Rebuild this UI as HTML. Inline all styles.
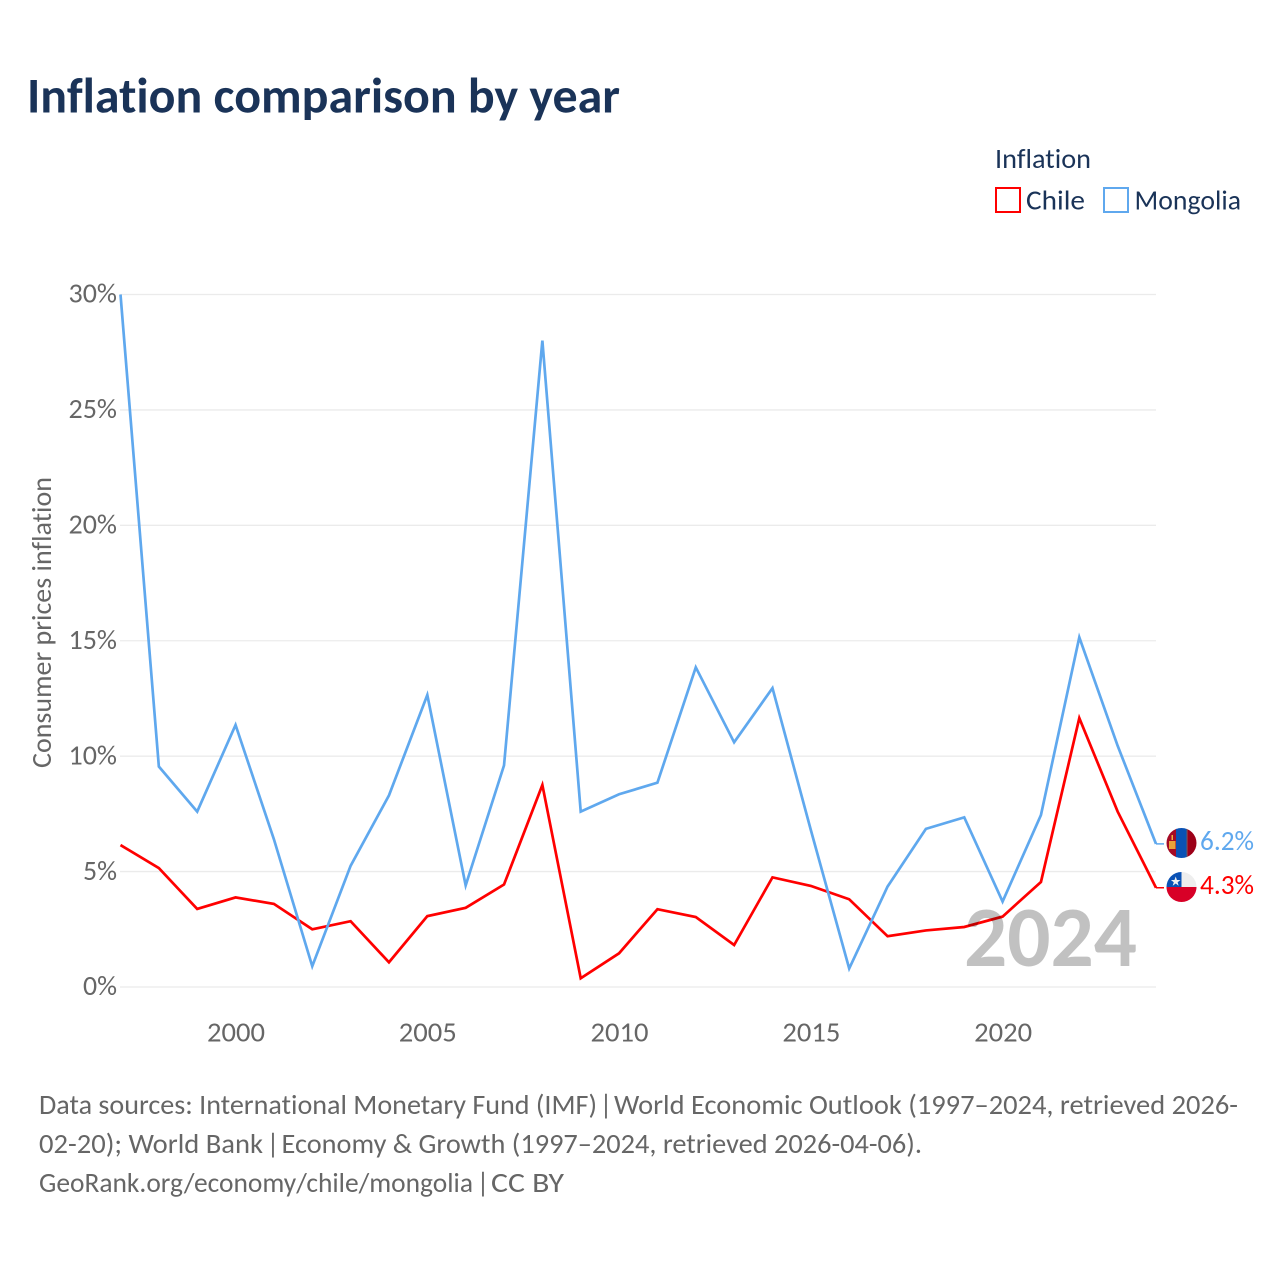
<!DOCTYPE html>
<html lang="en">
<head>
<meta charset="utf-8">
<title>Inflation comparison by year</title>
<style>
  html, body { margin: 0; padding: 0; background: #fff; }
  svg { display: block; font-family: "Carlito", "Lato", "Liberation Sans", sans-serif; font-variant-ligatures: none; }
</style>
</head>
<body>
<svg id="chart" xmlns="http://www.w3.org/2000/svg" width="1280" height="1280" viewBox="0 0 1280 1280">
  <defs>
    <clipPath id="flag-clip-mn"><circle cx="1181.5" cy="843" r="15"/></clipPath>
    <clipPath id="flag-clip-cl"><circle cx="1181.5" cy="887" r="15"/></clipPath>
  </defs>
  <rect x="0" y="0" width="1280" height="1280" fill="#fff"/>
  <text x="27" y="112.500" font-size="50" font-weight="700" fill="#1a3358" textLength="593" lengthAdjust="spacingAndGlyphs">Inflation comparison by year</text>

  <g>
    <text x="995" y="168" font-size="28" fill="#1a3358" textLength="96" lengthAdjust="spacingAndGlyphs">Inflation</text>
    <g>
      <rect x="996" y="188" width="24" height="24" fill="#fff" stroke="#ff0000" stroke-width="2"/>
      <text x="1026" y="209.500" font-size="28" fill="#1a3358" textLength="59" lengthAdjust="spacingAndGlyphs">Chile</text>
    </g>
    <g>
      <rect x="1104" y="188" width="24" height="24" fill="#fff" stroke="#5fa8ee" stroke-width="2"/>
      <text x="1134.500" y="209.500" font-size="28" fill="#1a3358" textLength="106.500" lengthAdjust="spacingAndGlyphs">Mongolia</text>
    </g>
  </g>

  <g id="grid"></g>
  <g id="y-ticks"></g>
  <g id="x-ticks"></g>
  <text transform="translate(51,768) rotate(-90)" x="0" y="0" font-size="27.500" fill="#666" textLength="291" lengthAdjust="spacingAndGlyphs">Consumer prices inflation</text>

  <g id="series"></g>

  <text x="964" y="966" font-size="86" font-weight="700" fill="#000" fill-opacity="0.245" textLength="173" lengthAdjust="spacingAndGlyphs">2024</text>

  <g clip-path="url(#flag-clip-mn)">
    <rect x="1166" y="828" width="11" height="30" fill="#a50a25"/>
    <rect x="1176" y="828" width="11" height="30" fill="#0a52b5"/>
    <rect x="1186.400" y="828" width="1" height="30" fill="#5a5a6a"/>
    <rect x="1187.400" y="828" width="11" height="30" fill="#9d0018"/>
    <rect x="1171.500" y="835" width="1.500" height="5" fill="#f0b040"/>
    <rect x="1169" y="841" width="6.500" height="8" fill="#e8a33a"/>
  </g>
  <g clip-path="url(#flag-clip-cl)">
    <rect x="1166" y="872" width="32" height="15" fill="#eeeeee"/>
    <rect x="1166" y="872" width="15.500" height="15" fill="#0a52b5"/>
    <rect x="1166" y="887" width="32" height="15" fill="#d80027"/>
    <polygon points="1175.700,876.500 1176.900,880 1180.500,880 1177.600,882.200 1178.700,885.700 1175.700,883.500 1172.700,885.700 1173.800,882.200 1170.900,880 1174.500,880" fill="#f0f0f0"/>
  </g>

  <text id="end-label-mongolia" x="1200" y="850" font-size="27.500" fill="#5fa8ee" textLength="54" lengthAdjust="spacingAndGlyphs">6.2%</text>
  <text id="end-label-chile" x="1200" y="894" font-size="27.500" fill="#ff0000" textLength="54" lengthAdjust="spacingAndGlyphs">4.3%</text>

  <g font-size="27.500" fill="#666">
    <text x="39" y="1114" textLength="558" lengthAdjust="spacingAndGlyphs">Data sources: International Monetary Fund (IMF)</text>
    <text x="606" y="1114" text-anchor="middle">|</text>
    <text x="614" y="1114" textLength="624" lengthAdjust="spacingAndGlyphs">World Economic Outlook (1997–2024, retrieved 2026-</text>
    <text x="39" y="1153" textLength="224" lengthAdjust="spacingAndGlyphs">02-20); World Bank</text>
    <text x="273" y="1153" text-anchor="middle">|</text>
    <text x="281.500" y="1153" textLength="640.500" lengthAdjust="spacingAndGlyphs">Economy &amp; Growth (1997–2024, retrieved 2026-04-06).</text>
    <text x="39" y="1192" textLength="434" lengthAdjust="spacingAndGlyphs">GeoRank.org/economy/chile/mongolia</text>
    <text x="483" y="1192" text-anchor="middle">|</text>
    <text x="491" y="1192" textLength="73" lengthAdjust="spacingAndGlyphs">CC BY</text>
  </g>
</svg>
<script>
const years = [1997,1998,1999,2000,2001,2002,2003,2004,2005,2006,2007,2008,2009,2010,2011,2012,2013,2014,2015,2016,2017,2018,2019,2020,2021,2022,2023,2024];
const chileValues = [6.15,5.15,3.38,3.88,3.6,2.5,2.85,1.07,3.07,3.43,4.44,8.75,0.38,1.46,3.37,3.03,1.82,4.75,4.38,3.8,2.2,2.45,2.6,3.05,4.55,11.65,7.6,4.3];
const mongoliaValues = [30,9.55,7.6,11.35,6.4,0.9,5.25,8.3,12.65,4.4,9.6,28,7.6,8.35,8.85,13.85,10.6,12.95,6.8,0.8,4.35,6.85,7.35,3.7,7.45,15.15,10.45,6.2];
const yTickValues = [0,5,10,15,20,25,30];
const xTickValues = [2000,2005,2010,2015,2020];

const NS = 'http://www.w3.org/2000/svg';
function xScale(year) { return 120.5 + (year - 1997) * (1156 - 120.5) / 27; }
function yScale(value) { return 987 - value * (987 - 294.5) / 30; }

const gridGroup = document.getElementById('grid');
const yTickGroup = document.getElementById('y-ticks');
const xTickGroup = document.getElementById('x-ticks');
const seriesGroup = document.getElementById('series');

yTickValues.forEach(function (v) {
  const line = document.createElementNS(NS, 'line');
  
  
  line.setAttribute('x1', 120);
  line.setAttribute('x2', 1156);
  line.setAttribute('y1', yScale(v));
  line.setAttribute('y2', yScale(v));
  line.setAttribute('stroke', '#ebebeb');
  line.setAttribute('stroke-width', '1.3');
  gridGroup.appendChild(line);

  const label = v + '%';
  const t = document.createElementNS(NS, 'text');
  
  
  const w = v === 0 ? 34 : (v === 5 ? 34 : 48.5);
  t.setAttribute('x', 117 - w);
  t.setAttribute('y', yScale(v) + 8.2);
  t.setAttribute('font-size', '27.500');
  t.setAttribute('fill', '#666');
  t.setAttribute('textLength', w);
  t.setAttribute('lengthAdjust', 'spacingAndGlyphs');
  t.textContent = label;
  yTickGroup.appendChild(t);
});

xTickValues.forEach(function (yr) {
  const t = document.createElementNS(NS, 'text');
  
  
  t.setAttribute('x', xScale(yr) - 28.5);
  t.setAttribute('y', 1041.5);
  t.setAttribute('font-size', '27.500');
  t.setAttribute('fill', '#666');
  t.setAttribute('textLength', 58);
  t.setAttribute('lengthAdjust', 'spacingAndGlyphs');
  t.textContent = yr;
  xTickGroup.appendChild(t);
});

function seriesPoints(values) {
  return values.map(function (v, i) {
    return xScale(years[i]).toFixed(2) + ',' + yScale(v).toFixed(2);
  }).join(' ');
}

const chileLine = document.createElementNS(NS, 'polyline');


chileLine.setAttribute('points', seriesPoints(chileValues));
chileLine.setAttribute('fill', 'none');
chileLine.setAttribute('stroke', '#ff0000');
chileLine.setAttribute('stroke-width', '2.7');
seriesGroup.appendChild(chileLine);

const mongoliaLine = document.createElementNS(NS, 'polyline');


mongoliaLine.setAttribute('points', seriesPoints(mongoliaValues));
mongoliaLine.setAttribute('fill', 'none');
mongoliaLine.setAttribute('stroke', '#5fa8ee');
mongoliaLine.setAttribute('stroke-width', '2.7');
seriesGroup.appendChild(mongoliaLine);

const chileLeader = document.createElementNS(NS, 'line');


chileLeader.setAttribute('x1', xScale(2024));
chileLeader.setAttribute('x2', xScale(2024) + 8);
chileLeader.setAttribute('y1', yScale(chileValues[27]));
chileLeader.setAttribute('y2', yScale(chileValues[27]));
chileLeader.setAttribute('stroke', '#ff0000');
chileLeader.setAttribute('stroke-width', '1.5');
seriesGroup.appendChild(chileLeader);

const mongoliaLeader = document.createElementNS(NS, 'line');


mongoliaLeader.setAttribute('x1', xScale(2024));
mongoliaLeader.setAttribute('x2', xScale(2024) + 8);
mongoliaLeader.setAttribute('y1', yScale(mongoliaValues[27]));
mongoliaLeader.setAttribute('y2', yScale(mongoliaValues[27]));
mongoliaLeader.setAttribute('stroke', '#5fa8ee');
mongoliaLeader.setAttribute('stroke-width', '1.5');
seriesGroup.appendChild(mongoliaLeader);

document.getElementById('end-label-chile').textContent = chileValues[27].toFixed(1) + '%';
document.getElementById('end-label-mongolia').textContent = mongoliaValues[27].toFixed(1) + '%';
</script>
</body>
</html>
